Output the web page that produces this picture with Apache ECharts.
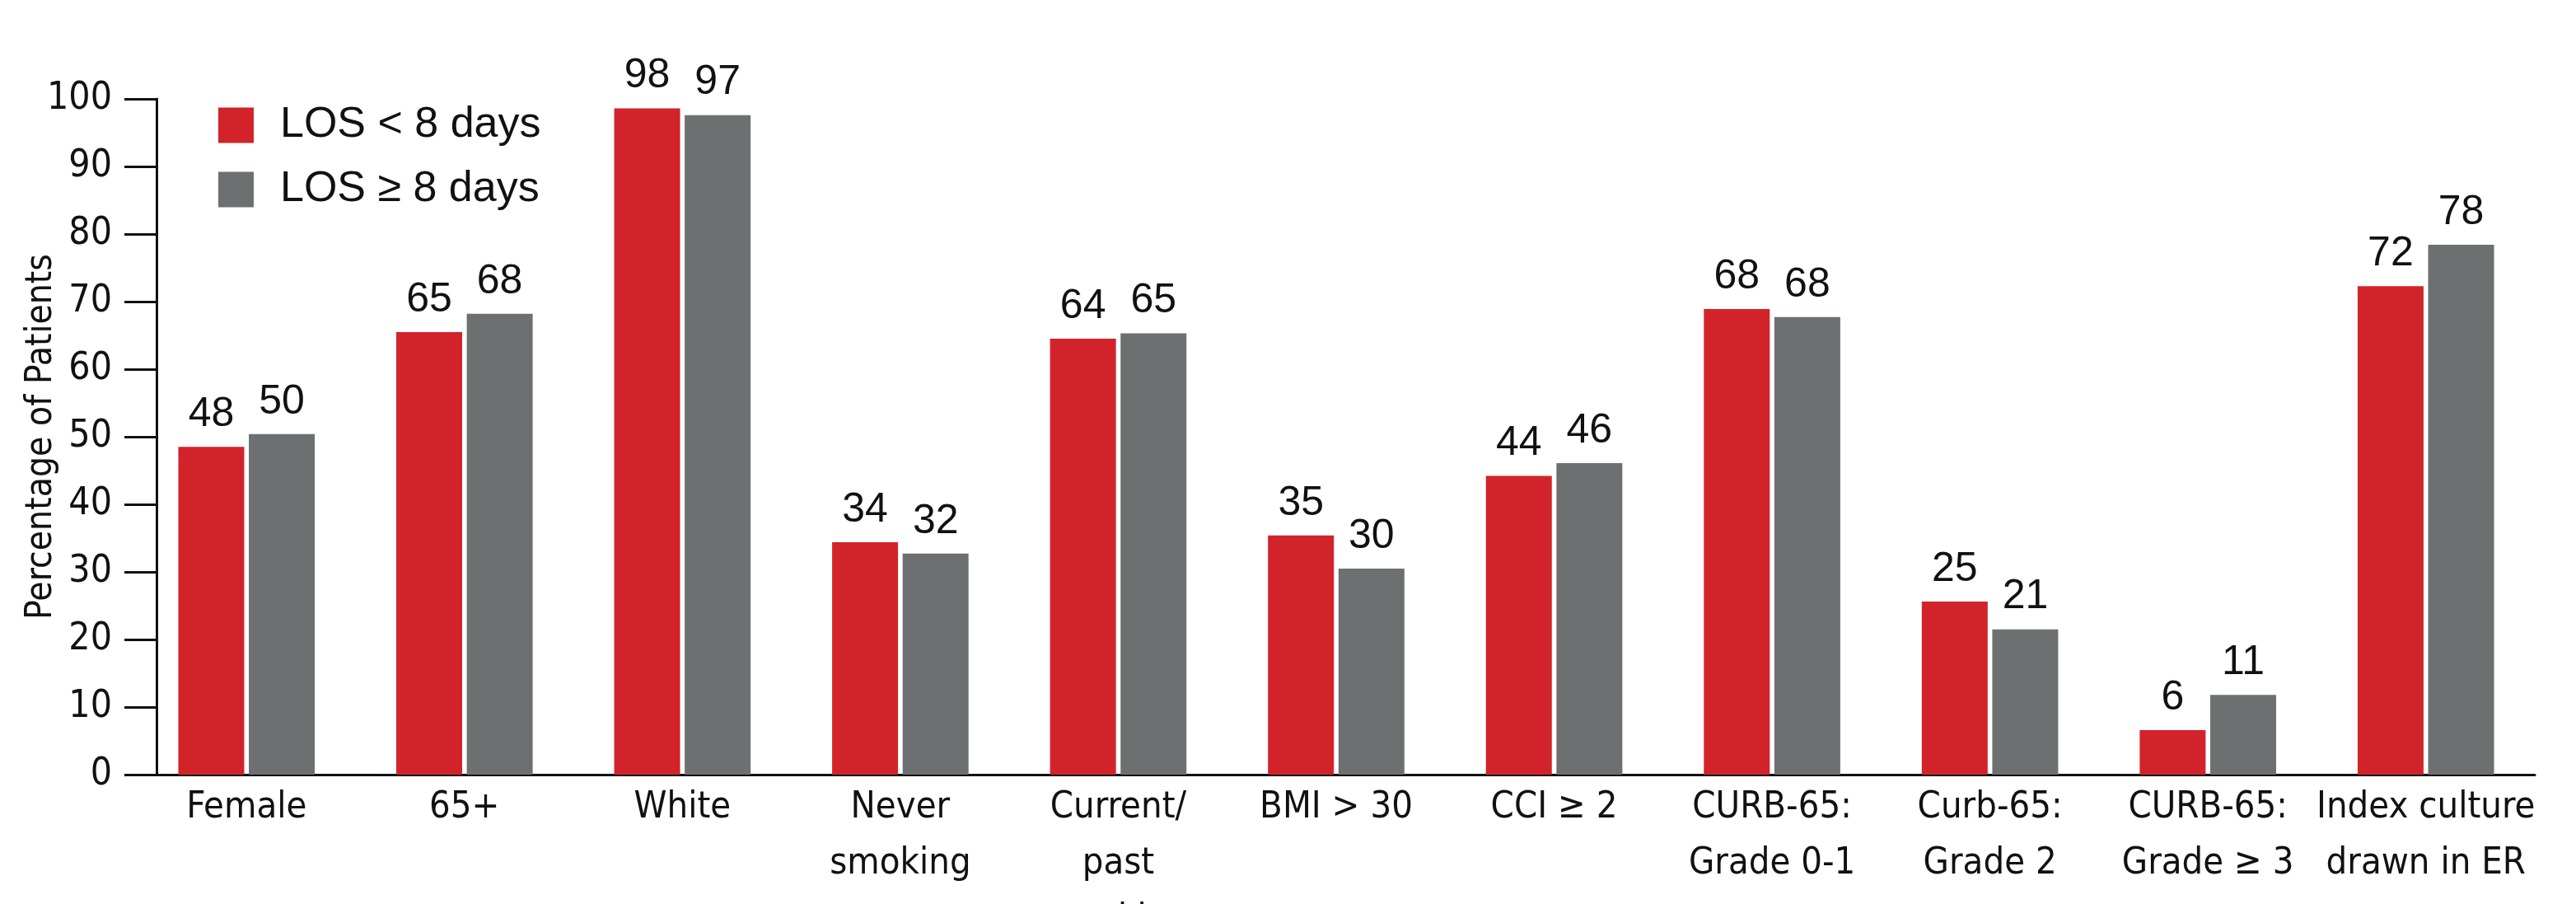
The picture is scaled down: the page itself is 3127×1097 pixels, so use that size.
<!DOCTYPE html>
<html>
<head>
<meta charset="utf-8">
<script src="https://cdn.jsdelivr.net/npm/echarts@6/dist/echarts.min.js"></script>
<style>
	html, body { margin: 0; padding: 0; background: #fff; }
	#los_chart { width: 3127px; height: 1097px; }
</style>
</head>
<body>
<div id="los_chart"></div>
<script>
var categories = ['Female', '65+', 'White', 'Never\nsmoking', 'Current/\npast\nsmoking', 'BMI > 30',
	'CCI ≥ 2', 'CURB-65:\nGrade 0-1', 'Curb-65:\nGrade 2', 'CURB-65:\nGrade ≥ 3', 'Index culture\ndrawn in ER'];
var seriesNames = ['LOS < 8 days', 'LOS ≥ 8 days'];
// bar heights
var shortStay = [48.5, 65.5, 98.6, 34.4, 64.5, 35.4, 44.2, 68.9, 25.6, 6.6, 72.3];
var longStay = [50.4, 68.2, 97.6, 32.7, 65.3, 30.5, 46.1, 67.7, 21.5, 11.8, 78.4];
// printed labels
var shortLabels = [48, 65, 98, 34, 64, 35, 44, 68, 25, 6, 72];
var longLabels = [50, 68, 97, 32, 65, 30, 46, 68, 21, 11, 78];

// the reference uses a condensed face for the axes
var narrow = '"Liberation Sans Narrow", "DejaVu Sans Condensed", "Liberation Sans", Arial, sans-serif';
var plain = '"Liberation Sans", Arial, sans-serif';

function barLabel(labels){
	return {
		show : true,
		position : 'top',
		distance : 14,
		fontFamily : plain,
		fontSize : 50,
		color : '#111',
		formatter : function(params){
			return labels[params.dataIndex];
		}
	};
}

var option = {
	backgroundColor : '#fff',
	animation : false,
	grid : {
		left : 167,
		right : 50,
		top : 120,
		bottom : 157,
		containLabel : false,
		outerBoundsMode : 'none'
	},
	legend : {
		orient : 'vertical',
		left : 260,
		top : 121,
		itemWidth : 43,
		itemHeight : 43,
		itemGap : 26,
		icon : 'rect',
		textStyle : {
			fontFamily : plain,
			fontSize : 52,
			color : '#111',
			padding : [0, 0, 0, 27]
		},
		data : seriesNames
	},
	xAxis : {
		type : 'category',
		data : categories,
		axisLine : { lineStyle : { color : '#111', width : 3 } },
		axisTick : { show : false },
		axisLabel : {
			interval : 0,
			margin : 6,
			fontFamily : narrow,
			fontSize : 45,
			lineHeight : 68,
			color : '#111'
		}
	},
	yAxis : {
		type : 'value',
		min : 0,
		max : 100,
		interval : 10,
		offset : -23,
		name : 'Percentage of Patients',
		nameLocation : 'middle',
		nameGap : 117,
		nameMoveOverlap : false,
		nameTextStyle : {
			fontFamily : narrow,
			fontSize : 44,
			color : '#111'
		},
		axisLine : { show : true, lineStyle : { color : '#111', width : 3 } },
		axisTick : { show : true, length : 39, lineStyle : { color : '#111', width : 3 } },
		axisLabel : {
			margin : 54,
			fontFamily : narrow,
			fontSize : 46,
			color : '#111'
		},
		splitLine : { show : false }
	},
	series : [
		{
			name : seriesNames[0],
			type : 'bar',
			barWidth : 80,
			barGap : '7%',
			itemStyle : { color : '#D2232A' },
			label : barLabel(shortLabels),
			data : shortStay
		},
		{
			name : seriesNames[1],
			type : 'bar',
			barWidth : 80,
			barGap : '7%',
			itemStyle : { color : '#6D7071' },
			label : barLabel(longLabels),
			data : longStay
		}
	]
};

var chart = echarts.init(document.getElementById('los_chart'));
chart.setOption(option);
</script>
</body>
</html>
